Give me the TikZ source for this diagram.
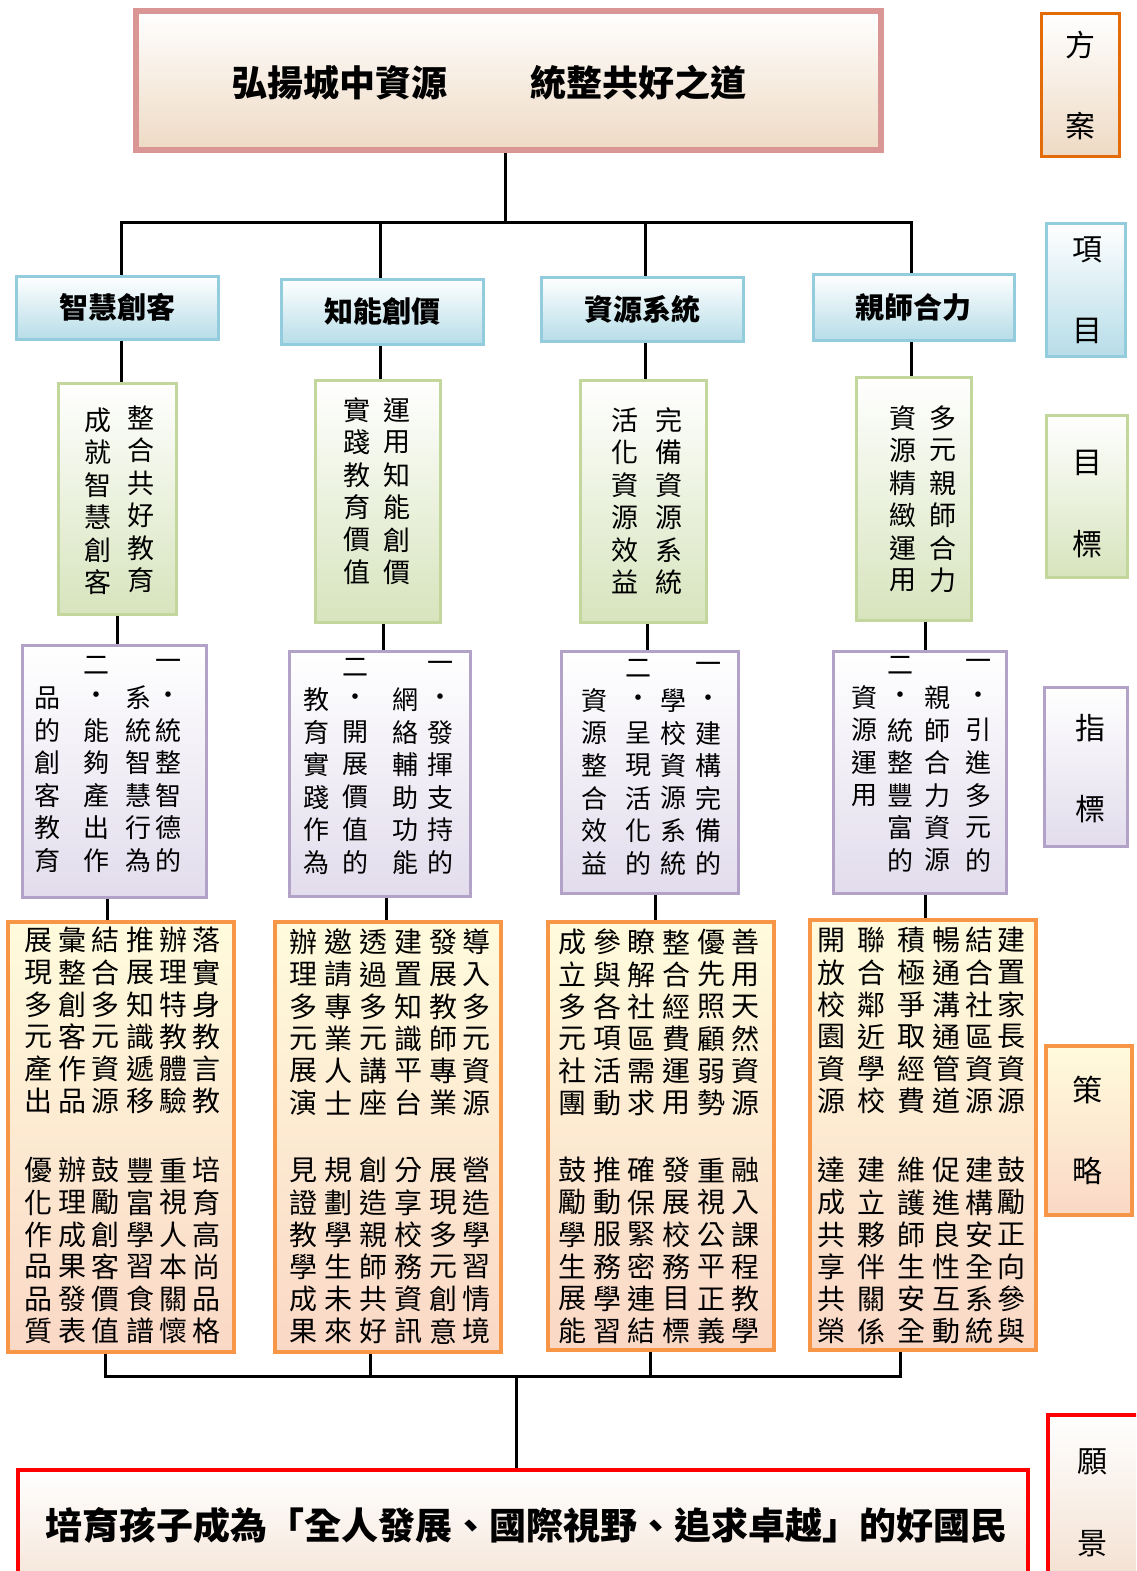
\documentclass[tikz,border=0pt]{standalone}
\usepackage{fontspec}
\setmainfont{Noto Sans CJK TC}
\usetikzlibrary{calc,backgrounds}
\definecolor{topB}{HTML}{D99694}
\definecolor{topF}{HTML}{EEDAC4}
\definecolor{itemB}{HTML}{93CDDD}
\definecolor{itemF}{HTML}{B7DDE8}
\definecolor{goalB}{HTML}{C3D69B}
\definecolor{goalF}{HTML}{D7E4BD}
\definecolor{indB}{HTML}{B3A2C7}
\definecolor{indF}{HTML}{E2DCEC}
\definecolor{strB}{HTML}{F79646}
\definecolor{strT}{HTML}{FFFBDC}
\definecolor{strF}{HTML}{FAD8C6}
\definecolor{fanB}{HTML}{E36C09}
\definecolor{visF}{HTML}{F2DDCC}

\ExplSyntaxOn
\NewDocumentCommand\myvcol{O{32pt}m}{
  \vbox{\offinterlineskip
    \tl_map_inline:nn {#2} {\hbox to 1em {\hss\vbox to #1 {\vss\hbox{##1}\vss}\hss}}
  }
}
\ExplSyntaxOff

\newcounter{colc}
% \mytcol{font size}{pitch}{x}{y of first char centre}{chars}
\newcommand\mytcol[5]{\stepcounter{colc}%
  \node[inner sep=0pt, anchor=north, name=c\arabic{colc}, font=\fontsize{#1pt}{#2pt}\selectfont]
    at (#3,#4-#2/2) {\myvcol[#2pt]{#5}};}
\newcommand\goalcol[3]{\mytcol{27}{32.4}{#1}{#2}{#3}}
\newcommand\indcol[3]{\mytcol{26}{32.5}{#1}{#2}{#3}}
\newcommand\stcol[3]{\mytcol{28}{32.2}{#1}{#2}{#3}}
\newcommand\labcol[3]{\mytcol{30}{81}{#1}{#2}{#3}}

\tikzset{
  conn/.style={line width=3pt, black},
  bx/.style={inner sep=0pt, rectangle},
  topbox/.style={bx, draw=topB, line width=6pt, top color=white, bottom color=topF},
  itembox/.style={bx, draw=itemB, line width=3pt, top color=white, bottom color=itemF,
    font=\fontsize{29pt}{32pt}\selectfont\bfseries},
  goalbox/.style={bx, draw=goalB, line width=3pt, top color=white, bottom color=goalF},
  indbox/.style={bx, draw=indB, line width=3pt, top color=white, bottom color=indF},
  stratbox/.style={bx, draw=strB, line width=3.5pt, top color=strT, bottom color=strF},
  visbox/.style={bx, draw=red, line width=4pt, top color=white, bottom color=visF},
  fanbox/.style={bx, draw=fanB, line width=3pt, top color=white, bottom color=topF},
}

\begin{document}
\begin{tikzpicture}[x=1pt,y=-1pt]
\useasboundingbox (0,0) rectangle (1136,1571);
\clip (0,0) rectangle (1136,1571);

% ---------- top ----------
\node[topbox, minimum width=745, minimum height=139] (top) at (508.5,80.5) {};
\node[inner sep=0pt, font=\fontsize{36pt}{40pt}\selectfont\bfseries] (title) at (489,83)
  {弘揚城中資源\hspace{83pt}統整共好之道};

% ---------- items ----------
\node[itembox, minimum width=202, minimum height=63] (i1) at (117,307.5) {智慧創客};
\node[itembox, minimum width=202, minimum height=65] (i2) at (382,311.5) {知能創價};
\node[itembox, minimum width=202, minimum height=64] (i3) at (642,309) {資源系統};
\node[itembox, minimum width=201, minimum height=66] (i4) at (913.5,307) {親師合力};

% ---------- goals ----------
\node[goalbox, minimum width=118, minimum height=231] (g1) at (117,498.5) {};
\node[goalbox, minimum width=125, minimum height=242] (g2) at (377.5,501) {};
\node[goalbox, minimum width=126, minimum height=242] (g3) at (643,501) {};
\node[goalbox, minimum width=115, minimum height=243] (g4) at (913.5,498.5) {};
\goalcol{141}{418}{整合共好教育}
\goalcol{98}{420}{成就智慧創客}
\goalcol{397}{410}{運用知能創價}
\goalcol{357}{410}{實踐教育價值}
\goalcol{669}{420}{完備資源系統}
\goalcol{625}{420}{活化資源效益}
\goalcol{943}{418}{多元親師合力}
\goalcol{903}{418}{資源精緻運用}

% ---------- indicators ----------
\node[indbox, minimum width=184, minimum height=252] (n1) at (114,771) {};
\node[indbox, minimum width=181, minimum height=245] (n2) at (379.5,773.5) {};
\node[indbox, minimum width=177, minimum height=242] (n3) at (649.5,772) {};
\node[indbox, minimum width=173, minimum height=242] (n4) at (919.5,772) {};
\indcol{168}{665}{一・統整智德的}
\indcol{138}{697.5}{系統智慧行為}
\indcol{96}{665}{二・能夠產出作}
\indcol{47}{697.5}{品的創客教育}
\indcol{440}{667}{一・發揮支持的}
\indcol{405}{699.5}{網絡輔助功能}
\indcol{355}{667}{二・開展價值的}
\indcol{316}{699.5}{教育實踐作為}
\indcol{708}{668}{一・建構完備的}
\indcol{673}{700.5}{學校資源系統}
\indcol{638}{668}{二・呈現活化的}
\indcol{594}{700.5}{資源整合效益}
\indcol{978}{665}{一・引進多元的}
\indcol{937}{697.5}{親師合力資源}
\indcol{900}{665}{二・統整豐富的}
\indcol{864}{697.5}{資源運用}

% ---------- strategies ----------
\node[stratbox, minimum width=226, minimum height=430] (s1) at (121,1137) {};
\node[stratbox, minimum width=226, minimum height=430] (s2) at (388,1137) {};
\node[stratbox, minimum width=226, minimum height=428] (s3) at (661,1136) {};
\node[stratbox, minimum width=226, minimum height=430] (s4) at (923,1135) {};
% box 1
\stcol{38}{940}{展現多元產出}
\stcol{72}{940}{彙整創客作品}
\stcol{105}{940}{結合多元資源}
\stcol{140}{940}{推展知識遞移}
\stcol{173}{940}{辦理特教體驗}
\stcol{206}{940}{落實身教言教}
\stcol{38}{1170}{優化作品品質}
\stcol{72}{1170}{辦理成果發表}
\stcol{105}{1170}{鼓勵創客價值}
\stcol{140}{1170}{豐富學習食譜}
\stcol{173}{1170}{重視人本關懷}
\stcol{206}{1170}{培育高尚品格}
% box 2
\stcol{303}{942}{辦理多元展演}
\stcol{338}{942}{邀請專業人士}
\stcol{373}{942}{透過多元講座}
\stcol{408}{942}{建置知識平台}
\stcol{443}{942}{發展教師專業}
\stcol{476}{942}{導入多元資源}
\stcol{303}{1170}{見證教學成果}
\stcol{338}{1170}{規劃學生未來}
\stcol{373}{1170}{創造親師共好}
\stcol{408}{1170}{分享校務資訊}
\stcol{443}{1170}{展現多元創意}
\stcol{476}{1170}{營造學習情境}
% box 3
\stcol{572}{942}{成立多元社團}
\stcol{607}{942}{參與各項活動}
\stcol{641}{942}{瞭解社區需求}
\stcol{676}{942}{整合經費運用}
\stcol{711}{942}{優先照顧弱勢}
\stcol{745}{942}{善用天然資源}
\stcol{572}{1170}{鼓勵學生展能}
\stcol{607}{1170}{推動服務學習}
\stcol{641}{1170}{確保緊密連結}
\stcol{676}{1170}{發展校務目標}
\stcol{711}{1170}{重視公平正義}
\stcol{745}{1170}{融入課程教學}
% box 4
\stcol{831}{940}{開放校園資源}
\stcol{871}{940}{聯合鄰近學校}
\stcol{911}{940}{積極爭取經費}
\stcol{946}{940}{暢通溝通管道}
\stcol{979}{940}{結合社區資源}
\stcol{1011}{940}{建置家長資源}
\stcol{831}{1170}{達成共享共榮}
\stcol{871}{1170}{建立夥伴關係}
\stcol{911}{1170}{維護師生安全}
\stcol{946}{1170}{促進良性互動}
\stcol{979}{1170}{建構安全系統}
\stcol{1011}{1170}{鼓勵正向參與}

% ---------- vision ----------
\node[visbox, minimum width=1010, minimum height=150] (vis) at (523,1545) {};
\node[inner sep=0pt, font=\fontsize{37pt}{40pt}\selectfont\bfseries] (vtext) at (526,1525)
  {培育孩子成為「全人發展、國際視野、追求卓越」的好國民};

% ---------- right labels ----------
\node[fanbox, minimum width=78, minimum height=142] (L1) at (1080,85) {};
\node[bx, draw=itemB, line width=3pt, top color=white, bottom color=itemF,
      minimum width=79, minimum height=133] (L2) at (1085.5,289.5) {};
\node[goalbox, minimum width=81, minimum height=162] (L3) at (1086.5,496) {};
\node[indbox, minimum width=83, minimum height=159] (L4) at (1085.5,766.5) {};
\node[stratbox, minimum width=86, minimum height=169] (L5) at (1089,1130.5) {};
\node[visbox, minimum width=102, minimum height=185] (L6) at (1099,1507.5) {};
\labcol{1080}{45}{方案}
\labcol{1087}{250}{項目}
\labcol{1087}{463}{目標}
\labcol{1090}{728}{指標}
\labcol{1087}{1090}{策略}
\labcol{1092}{1462}{願景}

% ---------- connectors ----------
\begin{scope}[on background layer]
\fill[white] (0,0) rectangle (1136,1571);
\coordinate (bc) at (505,222);
\coordinate (b1) at (121,222);
\coordinate (b2) at (380,222);
\coordinate (b3) at (645,222);
\coordinate (b4) at (911,222);
\draw[conn] (top.south -| bc) -- (bc);
\draw[conn] (b1 |- i1.north) -- (b1) -- (b4) -- (b4 |- i4.north);
\draw[conn] (b2) -- (b2 |- i2.north);
\draw[conn] (b3) -- (b3 |- i3.north);
\draw[conn] (i1.south -| b1) -- (g1.north -| b1);
\draw[conn] (i2.south -| b2) -- (g2.north -| b2);
\draw[conn] (i3.south -| b3) -- (g3.north -| b3);
\draw[conn] (i4.south -| b4) -- (g4.north -| b4);
\coordinate (v1) at (117,0);
\coordinate (v2) at (383,0);
\coordinate (v3) at (647,0);
\coordinate (v4) at (925,0);
\draw[conn] (g1.south -| v1) -- (n1.north -| v1);
\draw[conn] (g2.south -| v2) -- (n2.north -| v2);
\draw[conn] (g3.south -| v3) -- (n3.north -| v3);
\draw[conn] (g4.south -| v4) -- (n4.north -| v4);
\coordinate (w1) at (107,0);
\coordinate (w2) at (386,0);
\coordinate (w3) at (655,0);
\coordinate (w4) at (925,0);
\draw[conn] (n1.south -| w1) -- (s1.north -| w1);
\draw[conn] (n2.south -| w2) -- (s2.north -| w2);
\draw[conn] (n3.south -| w3) -- (s3.north -| w3);
\draw[conn] (n4.south -| w4) -- (s4.north -| w4);
\coordinate (d1) at (105,1376);
\coordinate (d2) at (370,1376);
\coordinate (d3) at (650,1376);
\coordinate (d4) at (900,1376);
\coordinate (dc) at (516,1376);
\draw[conn] (s1.south -| d1) -- (d1) -- (d4) -- (s4.south -| d4);
\draw[conn] (s2.south -| d2) -- (d2);
\draw[conn] (s3.south -| d3) -- (d3);
\draw[conn] (dc) -- (vis.north -| dc);
\end{scope}
\end{tikzpicture}
\end{document}
